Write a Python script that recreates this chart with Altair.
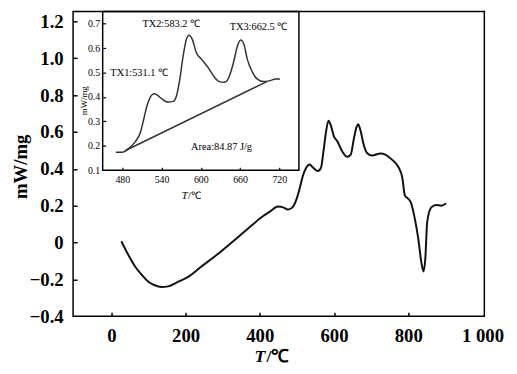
import altair as alt
import pandas as pd

# ---------------- data ----------------
main_T = [27, 46, 64, 82, 99, 117, 135, 153, 179, 206, 241, 286, 330, 374, 401, 427, 450,
          463, 476, 488, 499, 507, 516, 525, 534, 544, 556, 565, 571, 578, 585, 591, 600,
          609, 622, 636, 645, 653, 661, 665, 671, 680, 689, 702, 725, 738, 756, 773, 784,
          791, 798, 807, 816, 827, 835, 841, 846, 851, 862, 875, 889, 902]
main_v = [0.007, -0.068, -0.130, -0.175, -0.211, -0.232, -0.241, -0.238, -0.214, -0.188,
          -0.133, -0.064, 0.010, 0.085, 0.132, 0.168, 0.195, 0.191, 0.179, 0.191, 0.236,
          0.290, 0.361, 0.406, 0.424, 0.406, 0.388, 0.406, 0.486, 0.594, 0.661, 0.638,
          0.575, 0.549, 0.495, 0.465, 0.477, 0.558, 0.629, 0.642, 0.611, 0.531, 0.486,
          0.472, 0.483, 0.477, 0.450, 0.411, 0.352, 0.254, 0.241, 0.218, 0.146, 0.021,
          -0.104, -0.157, -0.086, 0.111, 0.191, 0.204, 0.200, 0.213]

inset_T = [470, 480, 490, 500, 508, 513, 518, 523, 528, 533, 540, 550, 558, 563, 568, 573,
           578, 582, 587, 593, 601, 611, 621, 628, 636, 643, 650, 656, 661, 666, 671, 679,
           686, 696, 706, 714, 721]
inset_v = [0.174, 0.174, 0.190, 0.217, 0.258, 0.312, 0.366, 0.400, 0.413, 0.409, 0.393,
           0.379, 0.382, 0.406, 0.474, 0.568, 0.636, 0.653, 0.636, 0.582, 0.555, 0.521,
           0.481, 0.463, 0.460, 0.481, 0.541, 0.609, 0.633, 0.615, 0.555, 0.501, 0.474,
           0.463, 0.467, 0.474, 0.474]

base_T = [485, 701]
base_v = [0.181, 0.463]

ann_label = ["TX1:531.1 ℃", "TX2:583.2 ℃", "TX3:662.5 ℃", "Area:84.87 J/g"]
ann_T = [505.8, 554.8, 688.2, 631.7]
ann_v = [0.500, 0.697, 0.685, 0.197]

main_xticks = [0, 200, 400, 600, 800, 1000]
main_yticks = [-0.4, -0.2, 0, 0.2, 0.4, 0.6, 0.8, 1.0, 1.2]
inset_xticks = [480, 540, 600, 660, 720]
inset_yticks = [0.1, 0.2, 0.3, 0.4, 0.5, 0.6, 0.7]

# ---------------- layout ----------------
W, H = 417, 309
SERIF = "Liberation Serif"
IN_L, IN_R, IN_B = 30, 229, 161   # inset frame in plot pixels

main_df = pd.DataFrame({"T": main_T, "v": main_v})
inset_df = pd.DataFrame({"T": inset_T, "v": inset_v})
base_df = pd.DataFrame({"T": base_T, "v": base_v})
ann_df = pd.DataFrame({"T": ann_T, "v": ann_v, "label": ann_label})
frame_df = pd.DataFrame({"T": [450], "T2": [750], "v": [0.1], "v2": [0.75]})

mx = alt.Scale(domain=[-103, 1005], nice=False, zero=False)
my = alt.Scale(domain=[-0.4, 1.254], nice=False, zero=False)
ix = alt.Scale(domain=[450, 750], range=[IN_L, IN_R], nice=False, zero=False)
iy = alt.Scale(domain=[0.1, 0.75], range=[IN_B, 0], nice=False, zero=False)

# ---- main chart ----
curve = alt.Chart(main_df).mark_line(color="#111111", strokeWidth=2, interpolate="monotone").encode(
    x=alt.X("T:Q", scale=mx, axis=alt.Axis(
        orient="bottom", values=main_xticks, format="d",
        labelExpr="datum.value == 1000 ? '1 000' : datum.label",
        ticks=False, domain=False, grid=False, labelFlush=False,
        labelFont=SERIF, labelFontSize=19, labelFontWeight="bold", labelColor="black",
        labelPadding=11, title=None)),
    y=alt.Y("v:Q", scale=my, axis=alt.Axis(
        orient="left", values=main_yticks, format=".1f",
        labelExpr="datum.value == 0 ? '0' : datum.label",
        ticks=False, domain=False, grid=False, labelFlush=False,
        labelFont=SERIF, labelFontSize=19, labelFontWeight="bold", labelColor="black",
        labelPadding=10, title="mW/mg", titleFont=SERIF, titleFontSize=19,
        titleFontWeight="bold", titleColor="black", titleX=-43, titleY=157)),
)

main_ticks = alt.Chart(main_df).mark_line(opacity=0).encode(
    x=alt.X("T:Q", scale=mx, axis=alt.Axis(
        orient="top", offset=-H, values=[0, 200, 400, 600, 800], labels=False,
        domain=False, grid=False, tickSize=4, tickWidth=1.5, tickColor="black", title=None)),
    y=alt.Y("v:Q", scale=my, axis=alt.Axis(
        orient="right", offset=-W, values=[-0.2, 0, 0.2, 0.4, 0.6, 0.8, 1.0, 1.2], labels=False,
        domain=False, grid=False, tickSize=4, tickWidth=1.5, tickColor="black", title=None)),
)

one = pd.DataFrame({"t": ["T"]})
two = pd.DataFrame({"t": ["/℃"]})
xt1 = alt.Chart(one).mark_text(font=SERIF, fontSize=18, fontWeight="bold", fontStyle="italic",
                               align="right", baseline="alphabetic", color="black").encode(
    text="t:N", x=alt.value(195), y=alt.value(355))
xt2 = alt.Chart(two).mark_text(font=SERIF, fontSize=18, fontWeight="bold",
                               align="left", baseline="alphabetic", color="black").encode(
    text="t:N", x=alt.value(196), y=alt.value(355))

main_group = alt.layer(curve, main_ticks, xt1, xt2).resolve_axis(x="independent", y="independent")

# ---- inset ----
icurve = alt.Chart(inset_df).mark_line(color="#333333", strokeWidth=1.5, interpolate="monotone").encode(
    x=alt.X("T:Q", scale=ix, axis=alt.Axis(
        orient="bottom", offset=-(H - IN_B), values=inset_xticks, ticks=False, domain=False,
        grid=False, labelFlush=False, labelFont=SERIF, labelFontSize=10, labelColor="black",
        labelPadding=4, title=None)),
    y=alt.Y("v:Q", scale=iy, axis=alt.Axis(
        orient="left", offset=-IN_L, values=inset_yticks, format=".1f", ticks=False,
        domain=False, grid=False, labelFlush=False, labelFont=SERIF, labelFontSize=10,
        labelColor="black", labelPadding=3, title="mW/mg", titleFont=SERIF,
        titleFontSize=9, titleFontWeight="normal", titleColor="black",
        titleX=-14, titleY=90)),
)

iticks = alt.Chart(inset_df).mark_line(opacity=0).encode(
    x=alt.X("T:Q", scale=ix, axis=alt.Axis(
        orient="top", offset=-IN_B, values=inset_xticks, labels=False, domain=False,
        grid=False, tickSize=3, tickWidth=1.2, tickColor="black", title=None)),
    y=alt.Y("v:Q", scale=iy, axis=alt.Axis(
        orient="right", offset=-(W - IN_L), values=[0.2, 0.3, 0.4, 0.5, 0.6, 0.7],
        labels=False, domain=False, grid=False, tickSize=3, tickWidth=1.2,
        tickColor="black", title=None)),
)

ibase = alt.Chart(base_df).mark_line(color="#333333", strokeWidth=1.5).encode(
    x=alt.X("T:Q", scale=ix, axis=None), y=alt.Y("v:Q", scale=iy, axis=None))

iframe = alt.Chart(frame_df).mark_rect(fillOpacity=0, stroke="black", strokeWidth=1.5).encode(
    x=alt.X("T:Q", scale=ix, axis=None), x2="T2:Q",
    y=alt.Y("v:Q", scale=iy, axis=None), y2="v2:Q")

iann = alt.Chart(ann_df).mark_text(font=SERIF, fontSize=10.5, color="black",
                                   align="center", baseline="middle").encode(
    x=alt.X("T:Q", scale=ix, axis=None), y=alt.Y("v:Q", scale=iy, axis=None), text="label:N")

it1 = alt.Chart(one).mark_text(font=SERIF, fontSize=10.5, fontStyle="italic", align="right",
                               baseline="alphabetic", color="black").encode(
    text="t:N", x=alt.value(116), y=alt.value(190))
it2 = alt.Chart(two).mark_text(font=SERIF, fontSize=10.5, align="left",
                               baseline="alphabetic", color="black").encode(
    text="t:N", x=alt.value(116.5), y=alt.value(190))

inset_group = alt.layer(icurve, iticks, ibase, iframe, iann, it1, it2).resolve_axis(
    x="independent", y="independent")

chart = alt.layer(main_group, inset_group).resolve_scale(
    x="independent", y="independent"
).properties(
    width=W, height=H,
    padding={"left": 4, "top": 0, "right": 5, "bottom": 2},
    background="white",
).configure_view(stroke="black", strokeWidth=1.5)

chart.save("out.html", embed_options={"renderer": "svg", "actions": False})
